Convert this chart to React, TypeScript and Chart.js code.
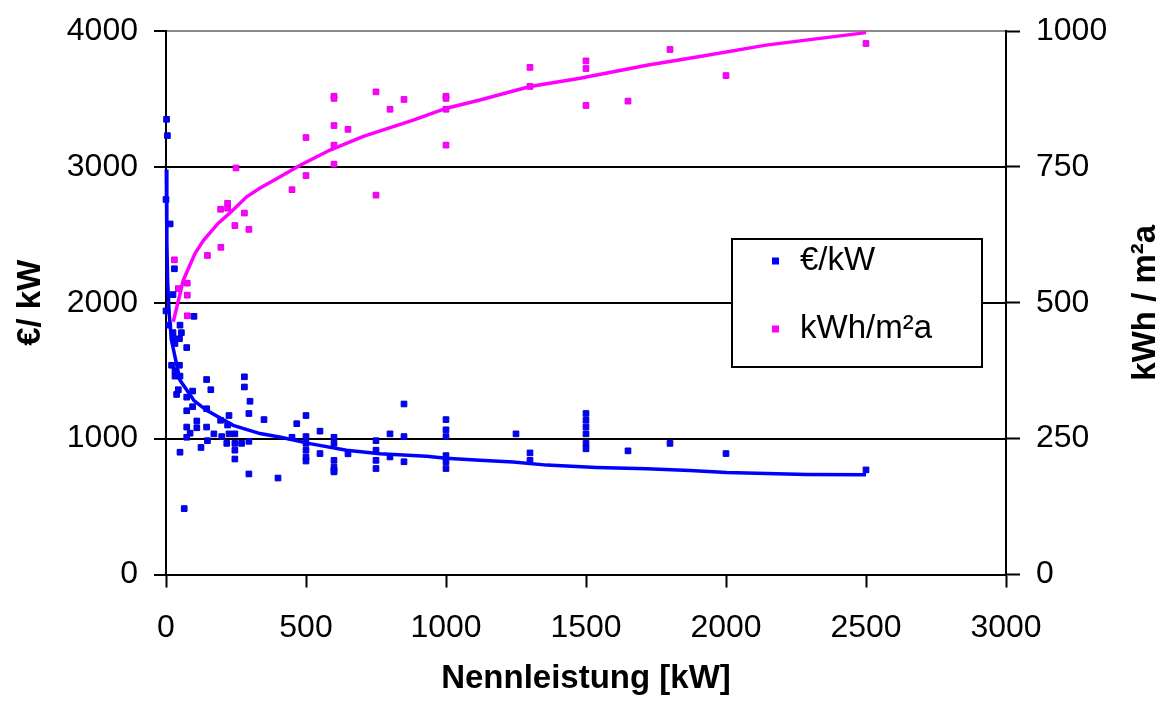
import React, { useEffect, useRef } from "react";
import { Chart, registerables } from "chart.js";

Chart.register(...registerables);

// ---- Data (x = Nennleistung kW) ----
const xTickValues = [0, 500, 1000, 1500, 2000, 2500, 3000];
const leftTickValues = [0, 1000, 2000, 3000, 4000];
const rightTickValues = [0, 250, 500, 750, 1000];

const costLabel = "€/kW";
const yieldLabel = "kWh/m²a";

// €/kW scatter points [kW, €/kW]
const costPoints: [number, number][] = [
  [2, 3350], [5, 3230], [0, 2760], [15, 2580], [30, 2250], [25, 2060], [0, 1940], [100, 1900],
  [10, 1835], [50, 1835], [25, 1780], [55, 1780], [25, 1745], [48, 1735], [32, 1700], [74, 1670],
  [20, 1540], [48, 1540], [32, 1500], [32, 1460], [50, 1460], [145, 1435], [280, 1455], [280, 1380],
  [44, 1360], [160, 1360], [95, 1350], [38, 1325], [74, 1305], [300, 1275], [95, 1235], [74, 1205],
  [145, 1220], [296, 1185], [225, 1170], [350, 1140], [500, 1170], [110, 1130], [195, 1135],
  [467, 1110], [220, 1100], [74, 1085], [110, 1080], [145, 1085], [550, 1055], [86, 1040],
  [171, 1035], [225, 1035], [246, 1035], [74, 1010], [199, 1015], [450, 1010], [500, 1015],
  [600, 1010], [148, 985], [296, 980], [217, 965], [246, 965], [270, 965], [500, 965], [600, 965],
  [125, 935], [246, 915], [500, 915], [50, 900], [650, 888], [550, 890], [246, 850], [500, 865],
  [600, 840], [500, 835], [600, 790], [600, 765], [600, 755], [296, 740], [400, 710], [65, 485],
  [750, 985], [750, 915], [750, 840], [750, 780], [800, 1035], [800, 865], [850, 1255], [850, 1015],
  [850, 830], [1000, 1140], [1000, 1065], [1000, 1015], [1000, 875], [1000, 830], [1000, 780],
  [1250, 1035], [1300, 895], [1300, 840], [1500, 1185], [1500, 1135], [1500, 1085], [1500, 1035],
  [1500, 965], [1500, 925], [1650, 910], [1800, 965], [2000, 890], [2500, 770],
];

// €/kW trend line [kW, €/kW]
const costTrend: [number, number][] = [
  [1, 2980], [3, 2450], [6, 2150], [12, 1900], [20, 1720], [50, 1430], [100, 1280], [145, 1208],
  [240, 1098], [336, 1037], [410, 1010], [514, 963], [645, 914], [764, 889], [931, 870],
  [1000, 855], [1121, 840], [1240, 828], [1360, 805], [1538, 788], [1717, 779], [1871, 766],
  [2002, 750], [2288, 736], [2500, 734],
];

// kWh/m²a scatter points [kW, kWh/m²a]
const yieldPoints: [number, number][] = [
  [250, 748], [450, 708], [220, 683], [220, 674], [195, 672], [280, 665], [246, 642], [296, 635],
  [196, 602], [148, 587], [76, 536], [44, 526], [76, 514], [76, 476], [30, 579], [500, 804],
  [600, 880], [600, 876], [750, 888], [800, 856], [850, 874], [600, 826], [650, 819], [600, 790],
  [600, 755], [500, 734], [750, 698], [1000, 880], [1000, 876], [1000, 856], [1000, 790],
  [1300, 933], [1300, 898], [1500, 945], [1500, 931], [1500, 863], [1650, 871], [1800, 966],
  [2000, 918], [2500, 977],
];

// kWh/m²a trend line [kW, kWh/m²a]
const yieldTrend: [number, number][] = [
  [26, 465], [62, 542], [104, 591], [134, 615], [186, 646], [234, 668], [288, 695], [336, 711],
  [395, 728], [479, 753], [586, 781], [705, 806], [883, 836], [1002, 858], [1121, 873],
  [1300, 898], [1479, 913], [1598, 925], [1717, 937], [1907, 953], [2143, 974], [2500, 997],
];

const BLUE = "#0000FF";
const MAGENTA = "#FF00FF";
const FONT = "'Liberation Sans', Arial, Helvetica, sans-serif";

const toXY = (arr: [number, number][]) => arr.map(([x, y]) => ({ x, y }));
const plain = (v: any) => String(v);

export default function App() {
  const ref = useRef<HTMLCanvasElement>(null);

  useEffect(() => {
    if (!ref.current) return;

    const overlayPlugin = {
      id: "overlay",
      afterDraw(chart: any) {
        const ctx = chart.ctx as CanvasRenderingContext2D;
        const area = chart.chartArea;
        ctx.save();
        // right axis title, reading bottom to top
        ctx.translate(1146, (area.top + area.bottom) / 2);
        ctx.rotate(-Math.PI / 2);
        ctx.font = `bold 33px ${FONT}`;
        ctx.fillStyle = "#000";
        ctx.textAlign = "center";
        ctx.textBaseline = "middle";
        ctx.fillText("kWh / m²a", 0, 0);
        ctx.restore();

        // legend box
        ctx.save();
        const bx = 732, by = 239, bw = 250, bh = 128;
        ctx.fillStyle = "#fff";
        ctx.fillRect(bx, by, bw, bh);
        ctx.strokeStyle = "#000";
        ctx.lineWidth = 2;
        ctx.strokeRect(bx, by, bw, bh);
        const items = [
          { label: costLabel, color: BLUE, y: 261 },
          { label: yieldLabel, color: MAGENTA, y: 329 },
        ];
        ctx.font = `33px ${FONT}`;
        ctx.textAlign = "left";
        ctx.textBaseline = "middle";
        for (const it of items) {
          ctx.fillStyle = it.color;
          ctx.fillRect(772, it.y - 3.5, 7, 7);
          ctx.fillStyle = "#000";
          ctx.fillText(it.label, 800, it.y);
        }
        ctx.restore();
      },
    };

    const chart = new Chart(ref.current, {
      type: "scatter",
      data: {
        datasets: [
          {
            label: costLabel,
            data: toXY(costPoints),
            yAxisID: "y",
            backgroundColor: BLUE,
            borderColor: "#0000C8",
            pointStyle: "rect",
            pointRadius: 4,
            pointBorderWidth: 1,
            clip: false,
            order: 3,
          },
          {
            label: costLabel + " Trend",
            data: toXY(costTrend),
            yAxisID: "y",
            showLine: true,
            borderColor: BLUE,
            borderWidth: 3.5,
            pointRadius: 0,
            tension: 0,
            clip: false,
            order: 1,
          },
          {
            label: yieldLabel,
            data: toXY(yieldPoints),
            yAxisID: "y1",
            backgroundColor: MAGENTA,
            borderColor: "#E000E0",
            pointStyle: "rect",
            pointRadius: 4,
            pointBorderWidth: 1,
            clip: false,
            order: 4,
          },
          {
            label: yieldLabel + " Trend",
            data: toXY(yieldTrend),
            yAxisID: "y1",
            showLine: true,
            borderColor: MAGENTA,
            borderWidth: 3.5,
            pointRadius: 0,
            tension: 0,
            clip: false,
            order: 2,
          },
        ],
      },
      options: {
        responsive: false,
        devicePixelRatio: 1,
        animation: false,
        events: [],
        layout: { padding: { top: 31, left: 0, right: 0, bottom: 0 } },
        plugins: {
          legend: { display: false },
          tooltip: { enabled: false },
          title: { display: false },
        },
        scales: {
          x: {
            type: "linear",
            min: 0,
            max: 3000,
            afterBuildTicks: (s: any) => {
              s.ticks = xTickValues.map((v) => ({ value: v }));
            },
            afterFit: (s: any) => {
              s.height = 127.5;
              s.paddingLeft = 0;
              s.paddingRight = 0;
            },
            grid: {
              drawOnChartArea: false,
              drawTicks: true,
              tickLength: 13,
              tickColor: "#000",
              tickWidth: 2,
            },
            border: { display: true, color: "#000", width: 2 },
            ticks: {
              color: "#000",
              font: { family: FONT, size: 32 },
              padding: 21,
              maxRotation: 0,
              autoSkip: false,
              callback: plain,
            },
            title: {
              display: true,
              text: "Nennleistung [kW]",
              color: "#000",
              font: { family: FONT, size: 33, weight: "bold" },
              padding: { top: 0, bottom: 3 },
            },
          },
          y: {
            type: "linear",
            position: "left",
            min: 0,
            max: 4000,
            afterBuildTicks: (s: any) => {
              s.ticks = leftTickValues.map((v) => ({ value: v }));
            },
            afterFit: (s: any) => {
              s.width = 166;
              s.paddingTop = 0;
              s.paddingBottom = 0;
            },
            grid: {
              drawOnChartArea: true,
              drawTicks: true,
              tickLength: 12,
              tickColor: "#000",
              tickWidth: 2,
              lineWidth: 2,
              color: (c: any) => (c.tick && c.tick.value === 4000 ? "#8c8c8c" : "#000"),
            },
            border: { display: true, color: "#000", width: 2 },
            ticks: {
              color: "#000",
              font: { family: FONT, size: 32 },
              padding: 16,
              autoSkip: false,
              callback: plain,
            },
            title: {
              display: true,
              text: "€/ kW",
              color: "#000",
              font: { family: FONT, size: 33, weight: "bold" },
              padding: { top: 11, bottom: 0 },
            },
          },
          y1: {
            type: "linear",
            position: "right",
            min: 0,
            max: 1000,
            afterBuildTicks: (s: any) => {
              s.ticks = rightTickValues.map((v) => ({ value: v }));
            },
            afterFit: (s: any) => {
              s.width = 157;
              s.paddingTop = 0;
              s.paddingBottom = 0;
            },
            grid: {
              drawOnChartArea: false,
              drawTicks: true,
              tickLength: 14,
              tickColor: "#000",
              tickWidth: 2,
            },
            border: { display: true, color: "#000", width: 2 },
            ticks: {
              color: "#000",
              font: { family: FONT, size: 32 },
              padding: 16,
              autoSkip: false,
              callback: plain,
            },
          },
        },
      },
      plugins: [overlayPlugin],
    } as any);

    return () => chart.destroy();
  }, []);

  return (
    <div style={{ position: "absolute", left: 0, top: 0, width: 1163, height: 702, background: "#fff" }}>
      <canvas ref={ref} width={1163} height={702} style={{ display: "block" }} />
    </div>
  );
}
